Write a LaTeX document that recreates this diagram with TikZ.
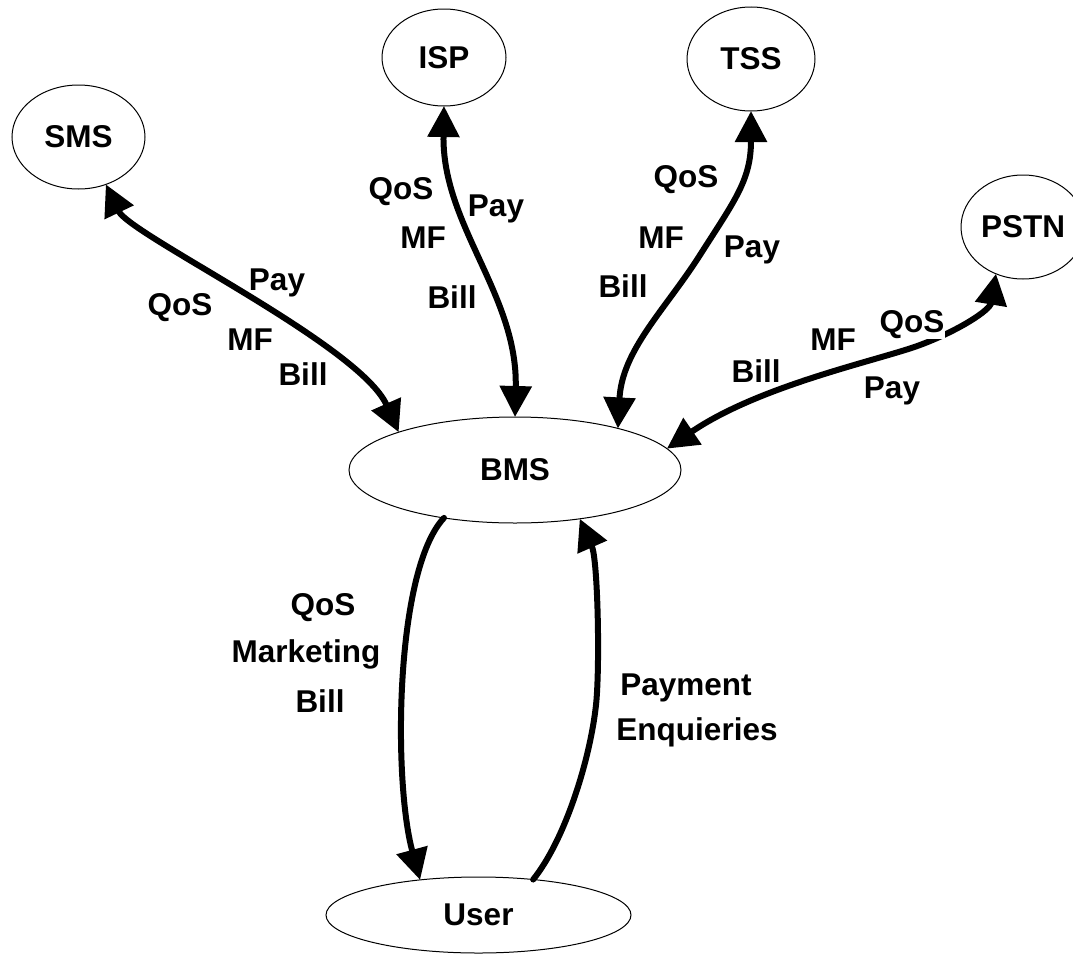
\documentclass[tikz,border=0pt]{standalone}
\usepackage{fontspec}
\setmainfont{Liberation Sans}
\usetikzlibrary{shapes.geometric,arrows.meta}

\tikzset{
  ent/.style={draw, ellipse, line width=1pt, inner sep=0pt, outer sep=0pt},
  lbl/.style={anchor=base, inner sep=0pt},
  flow/.style={line width=6pt, line cap=round, -{Triangle[length=31pt,width=31pt]}},
  flow2/.style={line width=6pt, {Triangle[length=31pt,width=31pt]}-{Triangle[length=31pt,width=31pt]}},
}

\begin{document}
\begin{tikzpicture}[x=1pt, y=-1pt, font=\fontsize{31.5}{38}\selectfont\bfseries]
  % page area
  \path[fill=white, use as bounding box] (0,0) rectangle (1073,953);

  % entities
  \node[ent, minimum width=133pt, minimum height=104pt] (sms)  at (78.5,137) {SMS};
  \node[ent, minimum width=124pt, minimum height=97pt]  (isp)  at (444,57.5) {ISP};
  \node[ent, minimum width=128pt, minimum height=104pt] (tss)  at (751,59)   {TSS};
  \node[ent, minimum width=124pt, minimum height=104pt] (pstn) at (1023,227) {PSTN};
  \node[ent, minimum width=332pt, minimum height=106pt] (bms)  at (515,470)  {BMS};
  \node[ent, minimum width=305pt, minimum height=76pt]  (user) at (478.5,915) {User};

  % SMS <-> BMS
  \draw[flow2] (sms.-60) .. controls (130,235) and (360,345) .. (bms.162);
  \node[lbl] (smspay)  at (277,290) {Pay};
  \node[lbl] (smsqos)  at (180,315) {QoS};
  \node[lbl] (smsmf)   at (250,350) {MF};
  \node[lbl] (smsbill) at (303,385) {Bill};

  % ISP <-> BMS
  \draw[flow2] (isp.-90) .. controls (442,225) and (518,295) .. (bms.90);
  \node[lbl] (ispqos)  at (401,199) {QoS};
  \node[lbl] (isppay)  at (496,216) {Pay};
  \node[lbl] (ispmf)   at (423,248) {MF};
  \node[lbl] (ispbill) at (452,308) {Bill};

  % TSS <-> BMS
  \draw[flow2] (tss.-90) .. controls (751,180) and (735,200) .. (700,255)
                         .. controls (665,310) and (622,350) .. (bms.22);
  \node[lbl] (tssqos)  at (686,187) {QoS};
  \node[lbl] (tssmf)   at (661,248) {MF};
  \node[lbl] (tsspay)  at (752,257) {Pay};
  \node[lbl] (tssbill) at (623,297) {Bill};

  % PSTN <-> BMS
  \draw[flow2] (pstn.240) .. controls (990,310) and (960,330) .. (920,345)
                          .. controls (880,360) and (760,385) .. (bms.8);
  \node[lbl, fill=white, inner sep=1pt] (pstnqos) at (912,332) {QoS};
  \node[lbl] (pstnmf)   at (833,350) {MF};
  \node[lbl] (pstnbill) at (756,382) {Bill};
  \node[lbl] (pstnpay)  at (892,398) {Pay};

  % BMS -> User
  \draw[flow] (bms.214) .. controls (395,570) and (393,780) .. (user.149);
  \node[lbl] (uqos)  at (323,615) {QoS};
  \node[lbl] (umkt)  at (306,662) {Marketing};
  \node[lbl] (ubill) at (320,712) {Bill};

  % User -> BMS
  \draw[flow] (user.33) .. controls (565,840) and (590,760) .. (596,705)
                        .. controls (600,668) and (598,560) .. (bms.-37);
  \node[lbl] (upay) at (686,695) {Payment};
  \node[lbl] (uenq) at (697,740) {Enquieries};
\end{tikzpicture}
\end{document}
